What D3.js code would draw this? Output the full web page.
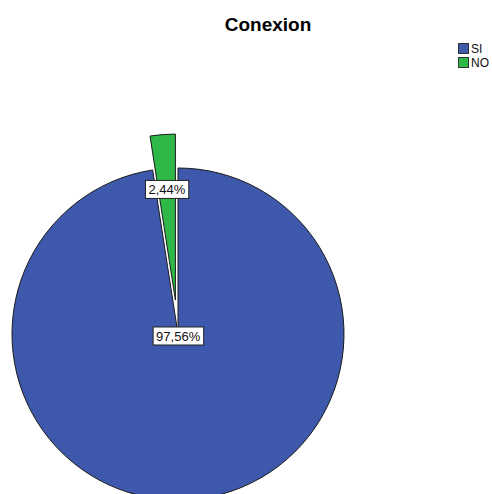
<!DOCTYPE html>
<html>
<head>
<meta charset="utf-8">
<script src="https://cdn.jsdelivr.net/npm/d3@7"></script>
<style>
  html, body { margin: 0; padding: 0; background: #fff; }
  svg { display: block; }
</style>
</head>
<body>
<script>
// Conexion: share of respondents with a connection
const categories = ["SI", "NO"];
const percents = [97.56, 2.44];
const colors = ["#3E58AC", "#2EB848"];
const labels = ["97,56%", "2,44%"];
const chartTitle = "Conexion";

const W = 492, H = 494;
const cx = 178, cy = 334, r = 166;
const explode = [0, 34];        // radial offset of each slice
const labelRadius = [2, 111];   // where each value label sits, from its slice's centre

const svg = d3.select("body").append("svg")
  .attr("width", W).attr("height", H)
  .style("font-family", "'Liberation Sans', Arial, sans-serif");

svg.append("text")
  .attr("x", 268).attr("y", 31)
  .attr("text-anchor", "middle")
  .attr("font-size", 19).attr("font-weight", "bold")
  .text(chartTitle);

const pie = d3.pie().sort(null).value(d => d.v);
const arcs = pie(categories.map((c, i) => ({ c, v: percents[i], i })));
const arc = d3.arc().innerRadius(0).outerRadius(r);

const g = svg.append("g").attr("transform", `translate(${cx},${cy})`);

function offset(a, dist) {
  const m = (a.startAngle + a.endAngle) / 2;
  return [Math.sin(m) * dist, -Math.cos(m) * dist];
}

const slices = g.selectAll("g.slice").data(arcs).join("g")
  .attr("class", "slice")
  .attr("transform", d => { const [x, y] = offset(d, explode[d.data.i]); return `translate(${x},${y})`; });

slices.append("path")
  .attr("d", arc)
  .attr("fill", d => colors[d.data.i])
  .attr("stroke", "#1a1a1a")
  .attr("stroke-width", 1)
  .attr("stroke-linejoin", "miter");

// value labels in white boxes
slices.each(function(d) {
  const sel = d3.select(this);
  const [lx, ly] = offset(d, labelRadius[d.data.i]);
  const lg = sel.append("g").attr("transform", `translate(${lx},${ly})`);
  const t = lg.append("text")
    .attr("text-anchor", "middle")
    .attr("dy", "0.36em")
    .attr("font-size", 13)
    .attr("fill", "#111")
    .text(labels[d.data.i]);
  const bb = t.node().getBBox();
  lg.insert("rect", "text")
    .attr("x", bb.x - 3).attr("y", -9)
    .attr("width", bb.width + 6).attr("height", 18)
    .attr("fill", "#fff").attr("stroke", "#222").attr("stroke-width", 1);
});

// legend
const leg = svg.append("g").attr("transform", "translate(458,43)");
categories.forEach((c, i) => {
  const row = leg.append("g").attr("transform", `translate(0,${i * 14})`);
  row.append("rect").attr("x", 0.5).attr("y", 0.5).attr("width", 10).attr("height", 10)
    .attr("fill", colors[i]).attr("stroke", "#333").attr("stroke-width", 1);
  row.append("text").attr("x", 13).attr("y", 10)
    .attr("font-size", 12).attr("fill", "#111").text(c);
});
</script>
</body>
</html>
